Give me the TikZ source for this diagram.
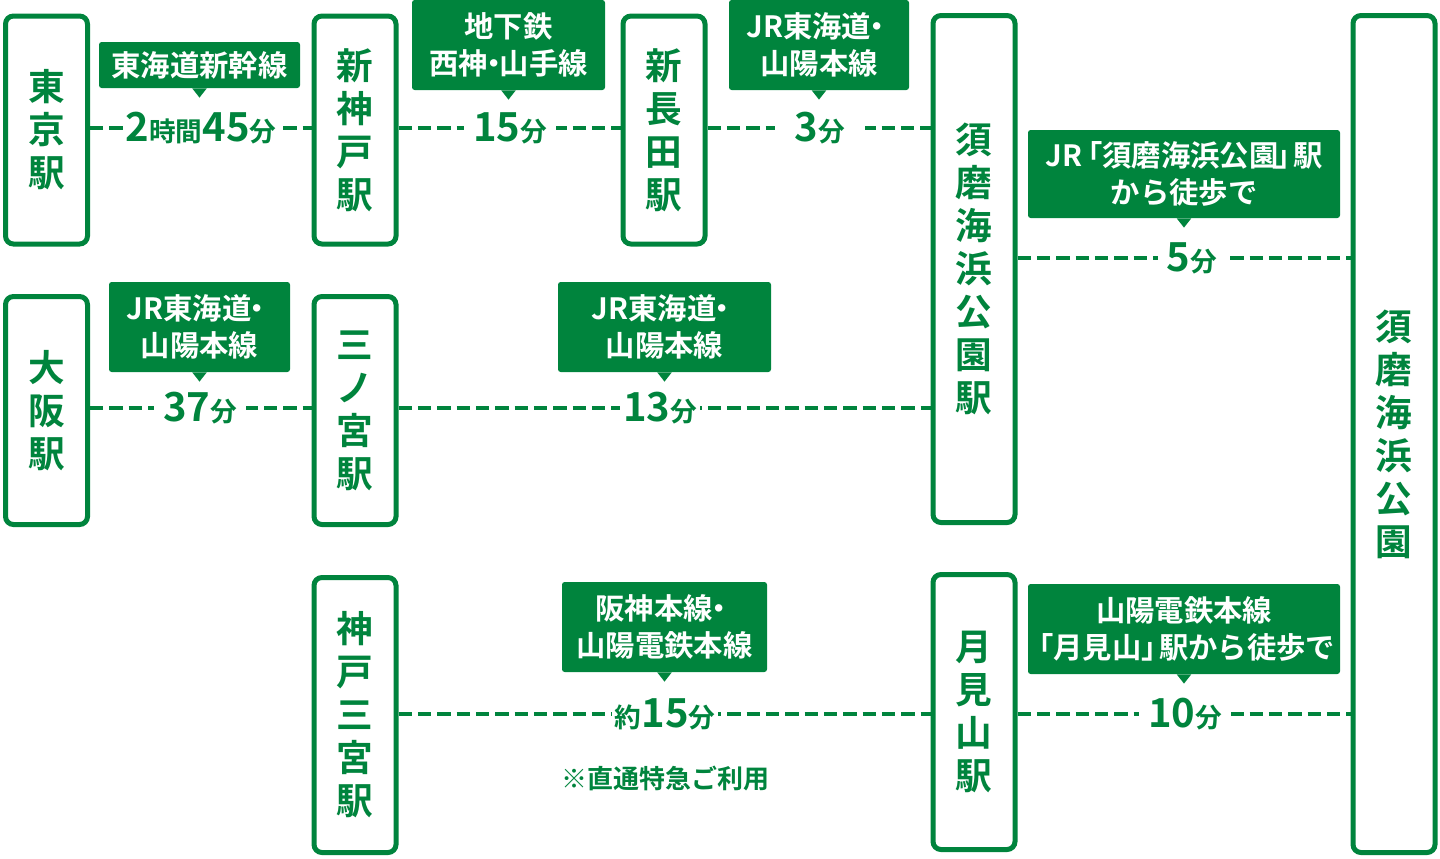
\documentclass[tikz,border=0pt]{standalone}
\usepackage{fontspec}
\setmainfont{Noto Sans CJK JP}[BoldFont={* Bold}]
\definecolor{g}{RGB}{0,132,61}
\newcommand{\dt}{\kern-0.3em・\kern-0.3em}
\newcommand{\dte}{\kern-0.3em・}
\begin{document}
\begin{tikzpicture}[x=0.75pt,y=-0.75pt,
  stn/.style={draw=g,line width=3.75pt,rounded corners=6pt,fill=white,align=center,
    font=\bfseries\fontsize{27.5}{32.25}\selectfont,text=g,inner sep=0pt,minimum width=61.5pt},
  lbl/.style={fill=g,text=white,align=center,rounded corners=2pt,inner sep=0pt,
    font=\bfseries\fontsize{22}{27.5}\selectfont},
  tm/.style={fill=white,text=g,inner sep=3pt,inner xsep=7pt,font=\bfseries\fontsize{30}{30}\selectfont},
  dl/.style={draw=g,line width=2.5pt,dash pattern=on 10pt off 4.5pt}]
\useasboundingbox (0,0) rectangle (1440,858);
\newcommand{\fn}[1]{{\fontsize{20}{20}\selectfont #1}}
% stations
\node[stn,minimum height=171pt] (tokyo) at (46.5,130) {東\\京\\駅};
\node[stn,minimum height=171pt] (shinkobe) at (355,130) {新\\神\\戸\\駅};
\node[stn,minimum height=171pt] (shinnagata) at (664,130) {新\\長\\田\\駅};
\node[stn,minimum height=380.25pt] (sumast) at (974,269) {須\\磨\\海\\浜\\公\\園\\駅};
\node[stn,minimum height=627.75pt] (park) at (1394,434) {須\\磨\\海\\浜\\公\\園};
\node[stn,minimum height=171pt] (osaka) at (46.5,410.5) {大\\阪\\駅};
\node[stn,minimum height=171pt] (sannomiya) at (355,410.5) {三\\ノ\\宮\\駅};
\node[stn,minimum height=206.25pt] (kobesan) at (355,715) {神\\戸\\三\\宮\\駅};
\node[stn,minimum height=206.25pt] (tsukimi) at (974,712) {月\\見\\山\\駅};
% time anchors
\coordinate (t1) at (201,128); \coordinate (t2) at (510,128); \coordinate (t3) at (820,128);
\coordinate (t4) at (1192,258); \coordinate (t5) at (200,408); \coordinate (t6) at (660,408);
\coordinate (t7) at (665,714); \coordinate (t8) at (1185,714);
\draw[dl] (tokyo.east |- t1) -- (shinkobe.west |- t1);
\draw[dl] (shinkobe.east |- t2) -- (shinnagata.west |- t2);
\draw[dl] (shinnagata.east |- t3) -- (sumast.west |- t3);
\draw[dl] (sumast.east |- t4) -- (park.west |- t4);
\draw[dl] (osaka.east |- t5) -- (sannomiya.west |- t5);
\draw[dl] (sannomiya.east |- t6) -- (sumast.west |- t6);
\draw[dl] (kobesan.east |- t7) -- (tsukimi.west |- t7);
\draw[dl] (tsukimi.east |- t8) -- (park.west |- t8);
\node[tm,inner xsep=2pt] (m1) at (t1) {2\fn{時間}45\fn{分}};
\node[tm] (m2) at (t2) {15\fn{分}};
\node[tm,inner xsep=15pt] (m3) at (t3) {3\fn{分}};
\node[tm] (m4) at (t4) {5\fn{分}};
\node[tm] (m5) at (t5) {37\fn{分}};
\node[tm,inner xsep=2pt] (m6) at (t6) {13\fn{分}};
\node[tm,inner xsep=2pt] (m7) at (t7) {\fn{約}15\fn{分}};
\node[tm] (m8) at (t8) {10\fn{分}};
% labels
\newcommand{\lab}[6]{%
  \node[lbl,minimum width=#3*0.75pt,minimum height=#4*0.75pt] (#1) at (#2) {#6};
  \fill[g] ([xshift=-5.5pt]#1.south) -- ([xshift=5.5pt]#1.south) -- ([yshift=-7pt]#1.south) -- cycle;}
\lab{l1}{199.5,65}{201}{46}{}{東海道新幹線}
\lab{l2}{508.5,45}{193}{90}{}{地下鉄\\西神\dt 山手線}
\lab{l3}{819,45}{180}{90}{}{JR東海道\dte\\山陽本線}
\lab{l4}{1184,174}{312}{88}{}{JR\kern-0.3em「須磨海浜公園\kern-0.1em」\kern-0.4em駅\\から徒歩で}
\lab{l5}{199.5,327}{181}{90}{}{JR東海道\dte\\山陽本線}
\lab{l6}{664.5,327}{213}{90}{}{JR東海道\dte\\山陽本線}
\lab{l7}{664.5,627}{205}{90}{}{阪神本線\dte\\山陽電鉄本線}
\lab{l8}{1184,629}{312}{90}{}{山陽電鉄本線\\\kern-0.3em「月見山」\kern-0.4em駅から徒歩で}
\node[text=g,font=\bfseries\fontsize{19.5}{19.5}\selectfont,inner sep=0pt] (note) at (665,778) {※直通特急ご利用};
\end{tikzpicture}
\end{document}
